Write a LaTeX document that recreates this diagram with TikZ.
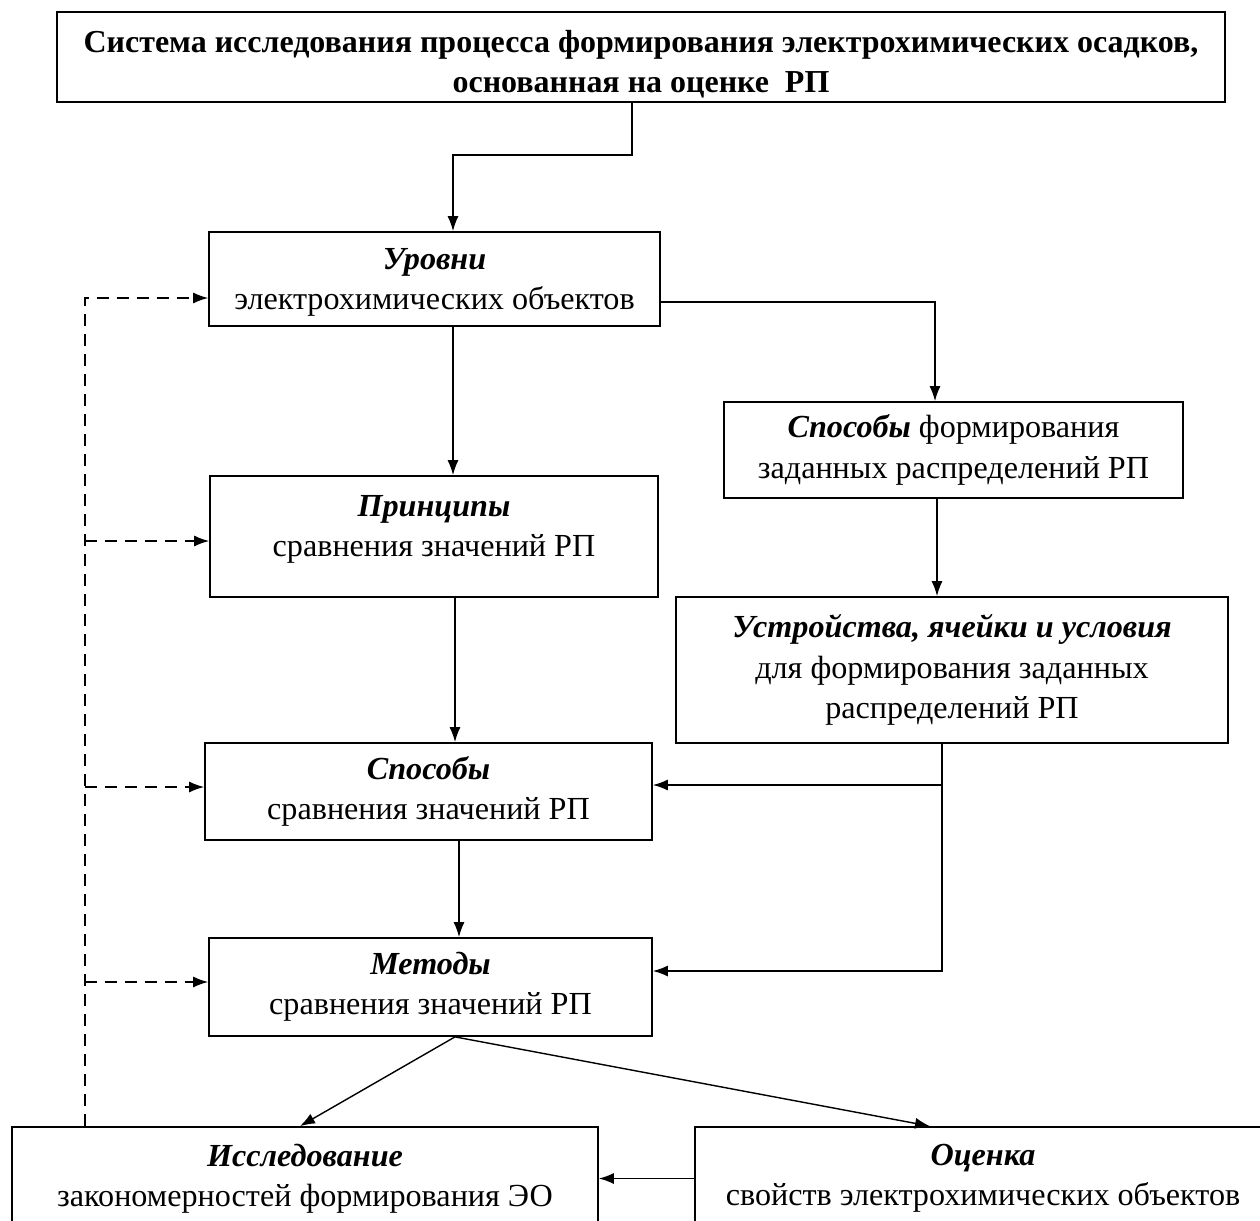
\documentclass[tikz,border=0pt]{standalone}
\usepackage{fontspec}
\setmainfont{Liberation Serif}
\usetikzlibrary{arrows.meta}

\begin{document}
\begin{tikzpicture}
    [x=0.02cm,y=-0.02cm,inner sep=0pt,line width=0.8pt,
     >={Latex[length=3mm,width=2.2mm]},
     block/.style={rectangle,draw,line width=1pt,align=center,
                   font=\fontsize{18.3}{23}\selectfont},
     feedback/.style={dash pattern=on 2.4mm off 1.6mm}]

    \useasboundingbox (0,0) rectangle (1260,1220);
    \clip (0,0) rectangle (1260,1220);

    % top box:
    \node (title) at (641,57) [block,minimum width=23.36cm,minimum height=1.8cm,
        font=\fontsize{18.2}{22.7}\selectfont\bfseries]
        {\rule{0pt}{21pt}Система исследования процесса формирования электрохимических осадков,\\
         основанная на оценке~~РП};

    % left column:
    \node (urovni) at (434.5,279) [block,minimum width=9.02cm,minimum height=1.88cm]
        {\rule{0pt}{16pt}\textbf{\textit{Уровни}}\\электрохимических объектов};
    \node (princ) at (434,536.5) [block,minimum width=8.96cm,minimum height=2.42cm]
        {\textbf{\textit{Принципы}}\\сравнения значений РП\rule[-12pt]{0pt}{0pt}};
    \node (spossr) at (428.5,791.5) [block,minimum width=8.94cm,minimum height=1.94cm]
        {\textbf{\textit{Способы}}\\сравнения значений РП};
    \node (metody) at (430.5,987) [block,minimum width=8.86cm,minimum height=1.96cm]
        {\textbf{\textit{Методы}}\\сравнения значений РП};

    % right column:
    \node (sposform) at (953.5,450) [block,minimum width=9.18cm,minimum height=1.92cm]
        {\textbf{\textit{Способы}} формирования\\заданных распределений РП};
    \node (ustr) at (952,670) [block,minimum width=11.04cm,minimum height=2.92cm]
        {\textbf{\textit{Устройства, ячейки и условия}}\\для формирования заданных\\распределений РП};

    % bottom boxes:
    \node (issl) at (305,1178.5) [block,minimum width=11.72cm,minimum height=2.06cm]
        {\textbf{\textit{Исследование}}\\закономерностей формирования ЭО};
    \node (otsenka) at (983,1178.5) [block,minimum width=11.52cm,minimum height=2.06cm]
        {\textbf{\textit{Оценка}}\\свойств электрохимических объектов};

    % connect boxes:
    \coordinate (bend) at (632,155);
    \draw [->] (title.south -| bend) -- (bend) -| ([xshift=0.37cm]urovni.north);
    \draw [->] ([yshift=-0.46cm]urovni.east) -| ([xshift=-0.37cm]sposform.north);
    \draw [->] ([xshift=0.37cm]urovni.south) -- ([xshift=0.37cm]urovni.south |- princ.north);
    \draw [->] ([xshift=0.42cm]princ.south) -- ([xshift=0.42cm]princ.south |- spossr.north);
    \draw [->] ([xshift=0.61cm]spossr.south) -- ([xshift=0.61cm]spossr.south |- metody.north);
    \draw [->] ([xshift=-0.33cm]sposform.south) -- ([xshift=-0.33cm]sposform.south |- ustr.north);
    \draw [->] ([xshift=-0.2cm]ustr.south) |- ([yshift=0.13cm]spossr.east);
    \draw [->] ([xshift=-0.2cm]ustr.south) |- ([yshift=0.32cm]metody.east);
    \draw [->] ([xshift=0.49cm]metody.south) -- ([xshift=-0.1cm]issl.north);
    \draw [->] ([xshift=0.49cm]metody.south) -- ([xshift=-1.06cm]otsenka.north);
    \draw [->] (otsenka.west) -- (issl.east);

    % feedback lines:
    \coordinate (fb1) at (85,298);
    \coordinate (fb2) at (85,541);
    \coordinate (fb3) at (85,787);
    \coordinate (fb4) at (85,982);
    \draw [feedback,->] (issl.north -| fb1) -- (fb1) -- (fb1 -| urovni.west);
    \draw [feedback,->] (fb2) -- (fb2 -| princ.west);
    \draw [feedback,->] (fb3) -- (fb3 -| spossr.west);
    \draw [feedback,->] (fb4) -- (fb4 -| metody.west);

\end{tikzpicture}
\end{document}
